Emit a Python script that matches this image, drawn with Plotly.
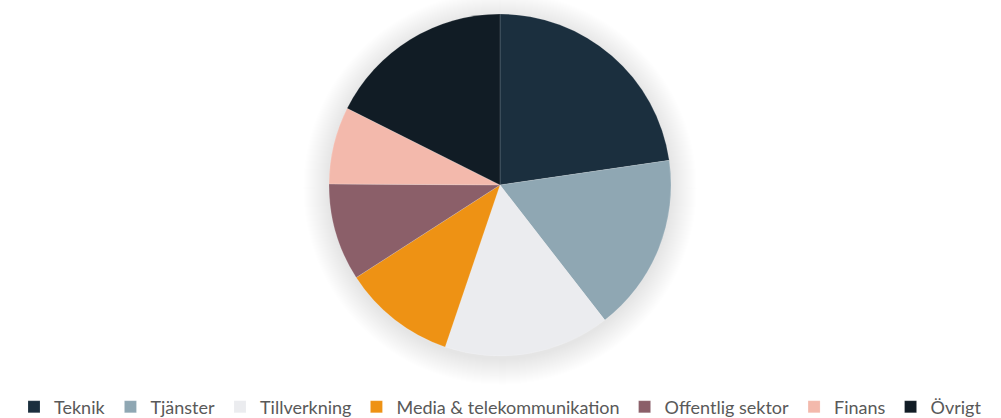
import plotly.graph_objects as go

categories = ["Teknik", "Tjänster", "Tillverkning", "Media & telekommunikation",
              "Offentlig sektor", "Finans", "Övrigt"]
values = [22.7, 16.8, 15.7, 10.7, 9.2, 7.3, 17.6]
colors = ["#1B2F3E", "#8FA7B3", "#EBECEF", "#EE9214", "#8B5F69", "#F3B9AC", "#111C25"]

W, H = 1001, 418
cx, cy, r = 500, 185, 171

dom_x = [(cx - r) / W, (cx + r) / W]
dom_y = [(H - cy - r) / H, (H - cy + r) / H]

fig = go.Figure()
fig.add_trace(go.Pie(
    labels=categories, values=values,
    marker=dict(colors=colors, line=dict(color="rgba(255,255,255,0.3)", width=0.5)),
    sort=False, direction="clockwise", rotation=0,
    textinfo="none", hoverinfo="label+percent",
    domain=dict(x=dom_x, y=dom_y),
))

# soft shadow behind the pie
shapes = []
for i in range(1, 27):
    rr = r + i
    off = 3
    shapes.append(dict(
        type="circle", xref="paper", yref="paper", layer="below",
        x0=(cx - rr) / W, x1=(cx + rr) / W,
        y0=(H - cy - off - rr) / H, y1=(H - cy - off + rr) / H,
        fillcolor="rgba(0,0,0,0.0045)", line=dict(width=0),
    ))

fig.update_layout(
    width=W, height=H,
    margin=dict(l=0, r=0, t=0, b=0, autoexpand=False),
    paper_bgcolor="white", plot_bgcolor="white",
    shapes=shapes,
    showlegend=True,
    legend=dict(orientation="h", x=0.5, xanchor="center", y=-0.018, yanchor="bottom",
                font=dict(family="Lato, 'Open Sans', sans-serif", size=18, color="#595959"),
                itemwidth=30, tracegroupgap=0, bgcolor="rgba(0,0,0,0)"),
)
fig.write_html("out.html", config={"displayModeBar": False},
               post_script="document.body.style.margin='0';document.body.style.overflow='hidden';")
